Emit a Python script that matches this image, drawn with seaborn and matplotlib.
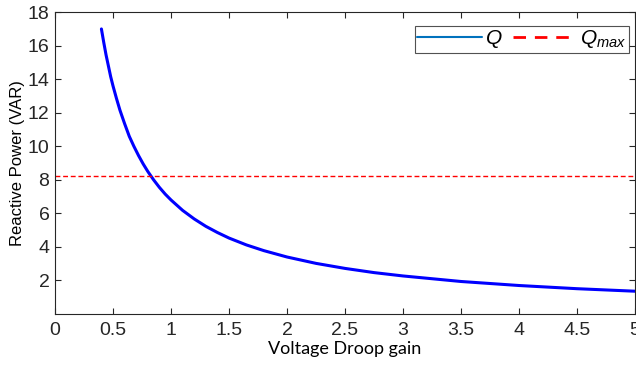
import matplotlib
matplotlib.use("Agg")
import matplotlib.pyplot as plt
import seaborn as sns
import pandas as pd
from matplotlib.lines import Line2D

# Data
droop_gain = [0.40, 0.42, 0.44, 0.46, 0.48, 0.50, 0.53, 0.56, 0.60, 0.64, 0.68,
              0.72, 0.76, 0.80, 0.85, 0.90, 0.95, 1.00, 1.10, 1.20, 1.30, 1.40,
              1.50, 1.65, 1.80, 2.00, 2.25, 2.50, 2.75, 3.00, 3.50, 4.00, 4.50, 5.00]
reactive_power = [17.0, 16.2, 15.45, 14.8, 14.15, 13.6, 12.85, 12.15, 11.35, 10.6, 10.0,
                  9.45, 8.95, 8.5, 8.0, 7.55, 7.15, 6.8, 6.18, 5.67, 5.23, 4.86,
                  4.53, 4.12, 3.78, 3.4, 3.02, 2.72, 2.47, 2.27, 1.94, 1.70, 1.51, 1.36]
q_max = 8.25
x_ticks = [0, 0.5, 1, 1.5, 2, 2.5, 3, 3.5, 4, 4.5, 5]
x_tick_labels = ["0", "0.5", "1", "1.5", "2", "2.5", "3", "3.5", "4", "4.5", "5"]
y_ticks = [2, 4, 6, 8, 10, 12, 14, 16, 18]

sns.set_style("ticks")
plt.rcParams["font.family"] = ["Liberation Sans", "DejaVu Sans"]
plt.rcParams["mathtext.fontset"] = "custom"
plt.rcParams["mathtext.it"] = "Liberation Sans:italic"
plt.rcParams["mathtext.rm"] = "Liberation Sans"

fig = plt.figure(figsize=(6.36, 3.69), dpi=100)
ax = fig.add_axes([0.0865, 0.149, 0.912, 0.818])

df = pd.DataFrame({"gain": droop_gain, "Q": reactive_power})
sns.lineplot(data=df, x="gain", y="Q", ax=ax, color="#0000FF", linewidth=2.2,
             sort=False, estimator=None)
ax.axhline(q_max, color="#FF0000", linestyle=(0, (3.5, 2)), linewidth=1.0)

ax.set_xlim(0, 5)
ax.set_ylim(0, 18)
ax.set_xticks(x_ticks)
ax.set_xticklabels(x_tick_labels)
ax.set_yticks(y_ticks)

for s in ax.spines.values():
    s.set_visible(True)
    s.set_color("#262626")
    s.set_linewidth(0.8)

ax.tick_params(axis="both", direction="in", length=4, width=0.8, color="#262626",
               labelsize=14, labelcolor="#262626", top=True, right=True)
ax.tick_params(axis="x", pad=6)
ax.tick_params(axis="y", pad=4)

ax.set_xlabel("Voltage Droop gain", fontsize=13, family=["Lato", "DejaVu Sans"],
              labelpad=1, color="black")
ax.set_ylabel("Reactive Power (VAR)", fontsize=12, labelpad=2, color="black")

handles = [Line2D([0], [0], color="#0072BD", linewidth=1.5),
           Line2D([0], [0], color="#FF0000", linewidth=2.0, linestyle=(0, (4.5, 3.2)))]
leg = ax.legend(handles, [r"$Q$", r"$Q_{max}$"], loc="upper right", ncol=2,
                bbox_to_anchor=(0.99, 0.955), frameon=True, fancybox=False,
                fontsize=15, handlelength=3.1, handletextpad=0.15, columnspacing=0.5,
                borderpad=0.12, borderaxespad=0.0, handleheight=0.6,
                labelcolor="black")
leg.get_frame().set_edgecolor("#262626")
leg.get_frame().set_linewidth(0.8)

fig.savefig("out.png", dpi=100)
